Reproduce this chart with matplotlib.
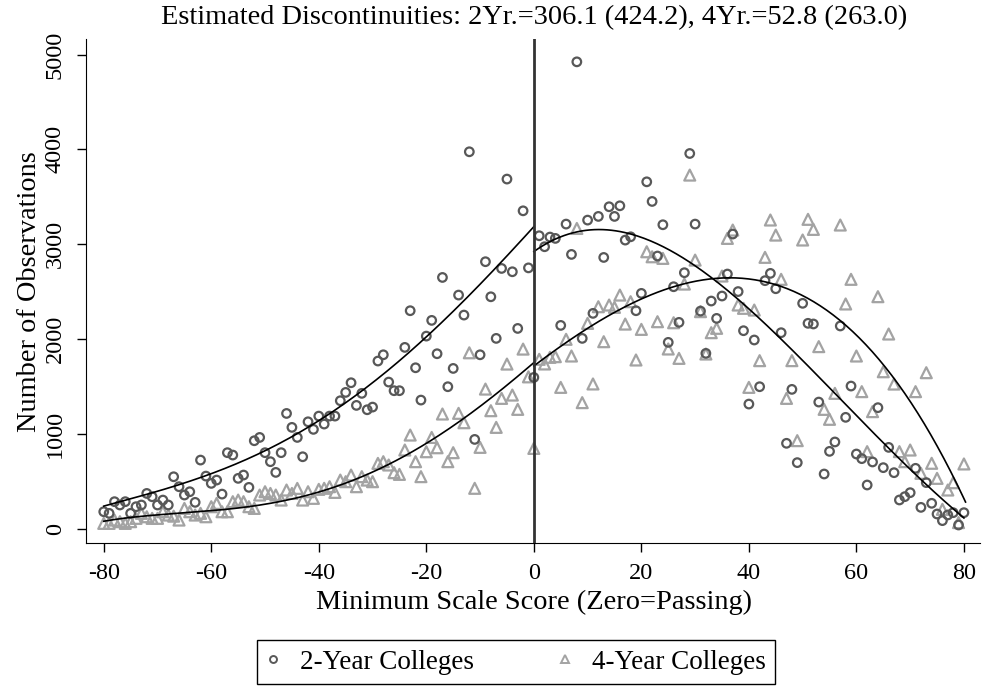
import matplotlib
matplotlib.use("Agg")
import matplotlib.pyplot as plt
from matplotlib.lines import Line2D
import numpy as np

plt.rcParams["font.family"] = ["Liberation Serif", "DejaVu Serif"]

scores = list(range(-80, 81))

# 2-year colleges, score -80 .. 80
two_year = [
    177, 160, 283, 248, 283, 160, 230, 248, 370, 335,
    248, 300, 248, 546, 441, 353, 388, 276, 722, 553,
    476, 511, 363, 800, 775, 529, 564, 434, 926, 961,
    800, 705, 592, 800, 1214, 1067, 961, 757, 1126, 1046,
    1186, 1102, 1186, 1186, 1348, 1436, 1538, 1299, 1426, 1253,
    1281, 1767, 1833, 1545, 1454, 1454, 1911, 2298, 1696, 1355,
    2030, 2196, 1844, 2649, 1496, 1689, 2463, 2252, 3975, 940,
    1833, 2815, 2445, 2006, 2744, 3687, 2709, 2111, 3352, 2750,
    1594, 3089, 2973, 3075, 3061, 2143, 3212, 2892, 4924, 2006,
    3254, 2270, 3293, 2860, 3395, 3293, 3405, 3043, 3078, 2298,
    2481, 3658, 3451, 2875, 3205, 1964, 2551, 2175, 2699, 3957,
    3212, 2294, 1848, 2400, 2217, 2453, 2685, 3107, 2500, 2087,
    1313, 1989, 1496, 2615, 2692, 2530, 2066, 899, 1468, 695,
    2376, 2165, 2158, 1334, 575, 814, 913, 2137, 1173, 1503,
    786, 737, 459, 702, 1275, 642, 856, 589, 301, 336,
    378, 635, 223, 484, 266, 153, 83, 143, 167, 37, 167,
]

# 4-year colleges, score -80 .. 80
four_year = [
    54, 54, 89, 72, 54, 72, 107, 160, 124, 107,
    107, 177, 142, 130, 89, 212, 177, 142, 160, 124,
    230, 265, 177, 177, 283, 300, 283, 230, 212, 353,
    388, 370, 353, 300, 406, 370, 423, 300, 388, 318,
    413, 424, 441, 381, 511, 494, 564, 441, 547, 511,
    494, 687, 705, 670, 589, 571, 828, 986, 705, 547,
    810, 961, 852, 1208, 705, 800, 1215, 1116, 1854, 424,
    856, 1471, 1243, 1067, 1373, 1735, 1408, 1257, 1893, 1600,
    845, 1785, 1736, 1806, 1813, 1489, 1996, 1820, 3166, 1328,
    2164, 1525, 2340, 1971, 2358, 2333, 2463, 2157, 2393, 1778,
    2101, 2920, 2867, 2182, 2850, 1894, 2171, 1795, 2579, 3729,
    2832, 2288, 1841, 2066, 2112, 2664, 3061, 3149, 2358, 2323,
    1489, 2305, 1771, 2861, 3255, 3096, 2629, 1373, 1771, 927,
    3044, 3262, 3156, 1919, 1257, 1152, 1426, 3202, 2369, 2629,
    1820, 1444, 811, 1233, 2446, 1654, 2052, 1524, 811, 705,
    828, 1444, 582, 1644, 688, 529, 202, 406, 483, 62, 681,
]

# fitted curves, one per side of the cutoff
fit2_left_x = [-80, -70, -60, -50, -43.5, -40, -32, -26, -20, -13, -9.4, -6.3, -3, 0]
fit2_left_y = [237, 390, 580, 830, 997, 1162, 1426, 1720, 2041, 2411, 2621, 2780, 2980, 3202]
fit2_right_x = [0, 3.6, 7.9, 12.3, 17.9, 23.4, 29, 30.9, 34.6, 38.3, 43.3, 48.2,
                54.4, 61.9, 68.1, 74.3, 80]
fit2_right_y = [2920, 3043, 3131, 3159, 3113, 2973, 2762, 2780, 2639, 2358, 2130, 1883,
                1531, 1074, 723, 406, 107]
fit4_left_x = [-80, -70, -60, -50, -43.5, -40, -26.8, -18.7, -9.4, 0]
fit4_left_y = [82, 130, 190, 270, 329, 388, 670, 933, 1338, 1742]
fit4_right_x = [0, 9.8, 20.3, 28.4, 30.9, 34.5, 38.3, 43.3, 49.5, 55.7, 59.1, 63.1,
                66.9, 70.6, 74.3, 78, 80.3]
fit4_right_y = [1707, 2129, 2411, 2586, 2615, 2639, 2657, 2587, 2480, 2235, 2094, 1883,
                1602, 1285, 900, 547, 301]

title = "Estimated Discontinuities: 2Yr.=306.1 (424.2), 4Yr.=52.8 (263.0)"
x_ticks = [-80, -60, -40, -20, 0, 20, 40, 60, 80]
y_ticks = [0, 1000, 2000, 3000, 4000, 5000]

DARK = "#585858"
LIGHT = "#a3a3a3"


def smooth(fx, fy, deg=4, n=200):
    # light polynomial smoothing of the points
    coef = np.polyfit(fx, fy, deg)
    grid = np.linspace(min(fx), max(fx), n)
    return grid, np.polyval(coef, grid)


fig = plt.figure(figsize=(9.83, 6.89), dpi=100)
ax = fig.add_axes([0.0875, 0.2119, 0.9095, 0.7315])

ax.scatter(scores, two_year, s=38, facecolors="none", edgecolors=DARK,
           linewidths=1.6, marker="o", zorder=3)
ax.scatter(scores, four_year, s=62, facecolors="none", edgecolors=LIGHT,
           linewidths=1.6, marker="^", zorder=2)

for fx, fy in ((fit2_left_x, fit2_left_y), (fit2_right_x, fit2_right_y),
               (fit4_left_x, fit4_left_y), (fit4_right_x, fit4_right_y)):
    gx, gy = smooth(fx, fy)
    ax.plot(gx, gy, color="black", lw=1.2, zorder=4)

ax.axvline(0, color="#333333", lw=2.0, zorder=5)

ax.set_xlim(-83.3, 83.0)
ax.set_ylim(-153, 5165)
ax.set_xticks(x_ticks)
ax.set_xticklabels([str(t) for t in x_ticks])
ax.set_yticks(y_ticks)
ax.set_yticklabels([str(t) for t in y_ticks], rotation=90, va="center")
ax.tick_params(axis="both", direction="out", length=6.5, width=1.0,
               labelsize=17.5, pad=8)
for side in ("top", "right"):
    ax.spines[side].set_visible(False)

fig.text(0.5435, 0.974, title, ha="center", va="center", fontsize=20.4)
fig.text(0.5435, 0.125, "Minimum Scale Score (Zero=Passing)", ha="center",
         va="center", fontsize=20.4)
fig.text(0.0305, 0.577, "Number of Observations", ha="center", va="center",
         rotation=90, fontsize=20.4)

handles = [
    Line2D([], [], ls="none", marker="o", ms=5, mfc="none", mec=DARK, mew=1.4),
    Line2D([], [], ls="none", marker="^", ms=6, mfc="none", mec=LIGHT, mew=1.4),
]
fig.legend(handles, ["2-Year Colleges", "4-Year Colleges"], ncol=2,
           loc="center", bbox_to_anchor=(0.525, 0.0385), fontsize=19.5,
           frameon=True, fancybox=False, edgecolor="black", framealpha=1,
           handlelength=0.5, handletextpad=0.75, columnspacing=3.1,
           borderpad=0.35)

fig.savefig("out.png", dpi=100)
